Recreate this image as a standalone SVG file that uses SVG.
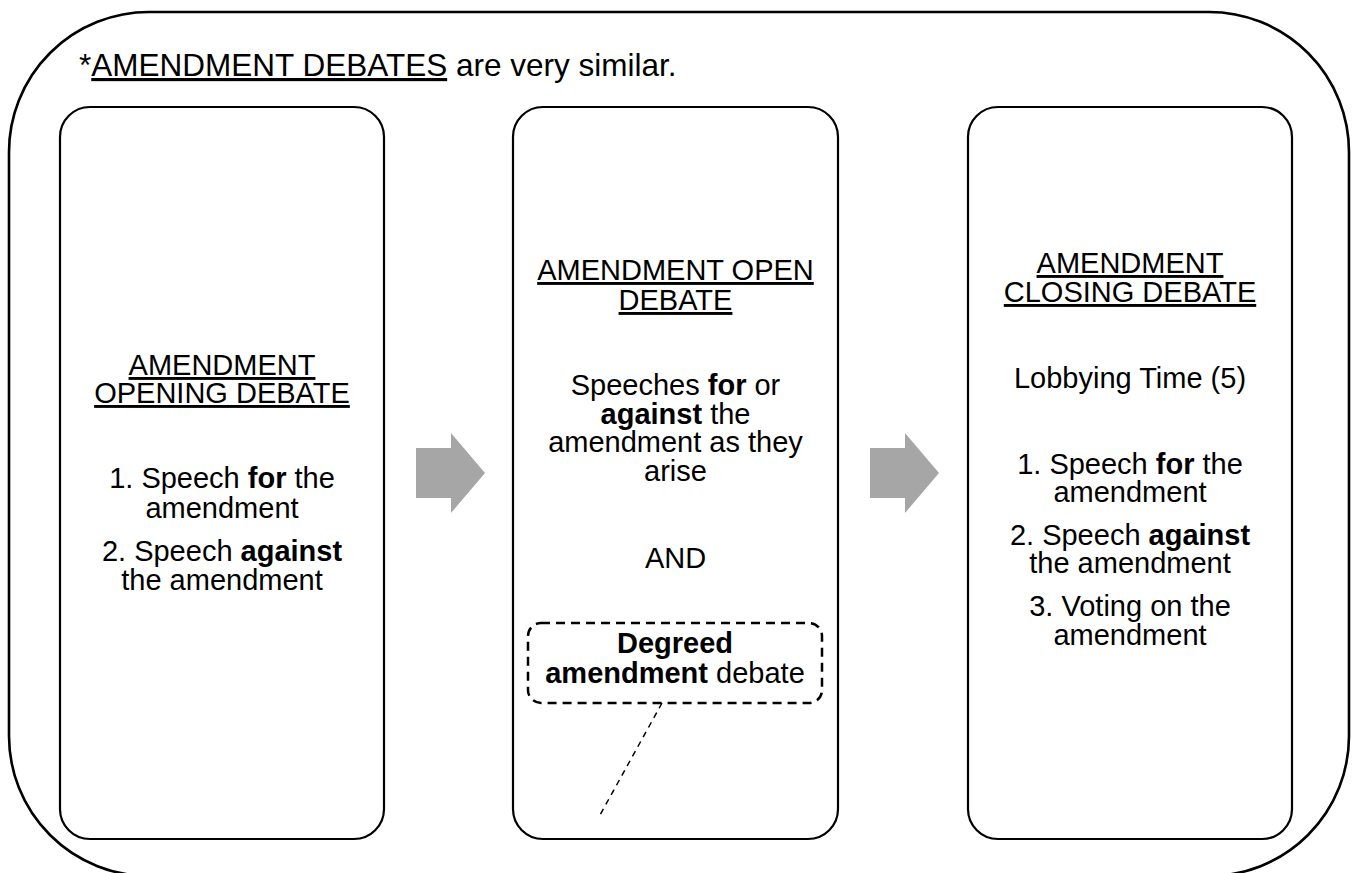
<svg xmlns="http://www.w3.org/2000/svg" width="1355" height="873" viewBox="0 0 1355 873">
<style>
text{font-family:"Liberation Sans",Arial,sans-serif;font-size:29px;fill:#000;text-anchor:middle}
.b{font-weight:bold}
.u{text-decoration:underline}
.box{fill:#fff;stroke:#000;stroke-width:2.2}
.arrow{fill:#a6a6a6;stroke:none}
</style>
<rect id="outer" x="9" y="12" width="1340" height="864" rx="140" ry="140" fill="#fff" stroke="#000" stroke-width="2.6"/>
<text x="79" y="76" style="font-size:31.5px;text-anchor:start">*<tspan class="u">AMENDMENT DEBATES</tspan> are very similar.</text>
<g id="opening">
<rect class="box" x="60" y="107" width="324" height="732" rx="30"/>
<text x="222" y="375" class="u">AMENDMENT</text>
<text x="222" y="403" class="u">OPENING DEBATE</text>
<text x="222" y="488">1. Speech <tspan class="b">for</tspan> the</text>
<text x="222" y="518">amendment</text>
<text x="222" y="561">2. Speech <tspan class="b">against</tspan></text>
<text x="222" y="590">the amendment</text>
</g>
<g id="open">
<rect class="box" x="513" y="107" width="325" height="732" rx="30"/>
<text x="675.5" y="280" class="u">AMENDMENT OPEN</text>
<text x="675.5" y="310" class="u">DEBATE</text>
<text x="675.5" y="395">Speeches <tspan class="b">for</tspan> or</text>
<text x="675.5" y="424"><tspan class="b">against</tspan> the</text>
<text x="675.5" y="452">amendment as they</text>
<text x="675.5" y="481">arise</text>
<text x="675.5" y="568">AND</text>
</g>
<g id="degreed">
<rect x="528" y="623" width="294" height="80" rx="13" fill="none" stroke="#000" stroke-width="2.5" stroke-dasharray="9,6"/>
<text x="675" y="653" class="b">Degreed</text>
<text x="675" y="683"><tspan class="b">amendment</tspan> debate</text>
</g>
<g id="closing">
<rect class="box" x="968" y="107" width="324" height="732" rx="30"/>
<text x="1130" y="273" class="u">AMENDMENT</text>
<text x="1130" y="302" class="u">CLOSING DEBATE</text>
<text x="1130" y="388">Lobbying Time (5)</text>
<text x="1130" y="474">1. Speech <tspan class="b">for</tspan> the</text>
<text x="1130" y="502">amendment</text>
<text x="1130" y="545">2. Speech <tspan class="b">against</tspan></text>
<text x="1130" y="573">the amendment</text>
<text x="1130" y="616">3. Voting on the</text>
<text x="1130" y="645">amendment</text>
</g>
<g id="connectors">
<polygon class="arrow" points="416,448 451,448 451,433 485,473 451,513 451,498 416,498"/>
<polygon class="arrow" points="870,448 905,448 905,433 939,473 905,513 905,498 870,498"/>
<line x1="662" y1="703" x2="600" y2="815" stroke="#000" stroke-width="1.5" stroke-dasharray="6,5"/>
</g>
</svg>
